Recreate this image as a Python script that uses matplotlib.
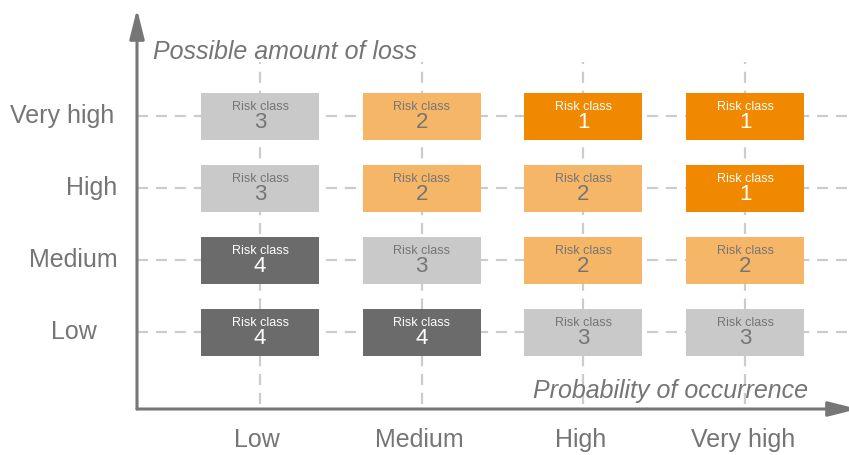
import matplotlib
matplotlib.use("Agg")
import matplotlib.pyplot as plt
from matplotlib.patches import Rectangle

plt.rcParams['font.family'] = ['Liberation Sans', 'DejaVu Sans']

# ---- data ----
prob_labels = ["Low", "Medium", "High", "Very high"]      # x categories
loss_labels = ["Low", "Medium", "High", "Very high"]      # y categories (bottom -> top)
# risk class per (loss row, probability column); rows bottom->top
risk_matrix = [
    [4, 4, 3, 3],   # Low
    [4, 3, 2, 2],   # Medium
    [3, 2, 2, 1],   # High
    [3, 2, 1, 1],   # Very high
]
box_text = "Risk class"
x_title = "Probability of occurrence"
y_title = "Possible amount of loss"

# ---- styles ----
class_colors = {1: "#f08800", 2: "#f6b667", 3: "#c9c9c9", 4: "#6b6b6b"}
class_text = {1: "white", 2: "#757575", 3: "#757575", 4: "white"}
axis_color = "#767676"
grid_color = "#cccccc"
label_color = "#757575"

W, H = 849, 455
fig = plt.figure(figsize=(W / 100, H / 100), dpi=100)

# pixel geometry of the axes
x0_px, x1_px = 137, 849
y_bot_px, y_top_px = 409, 9
col0_px, col_step = 260, 161.7
row0_px, row_step = 332, 72.0

def px2x(p):
    return (p - col0_px) / col_step

def px2y(p):
    return (row0_px - p) / row_step

ax = fig.add_axes([x0_px / W, (H - y_bot_px) / H, (x1_px - x0_px) / W, (y_bot_px - y_top_px) / H])
ax.set_xlim(px2x(x0_px), px2x(x1_px))
ax.set_ylim(px2y(y_bot_px), px2y(y_top_px))
ax.axis("off")

# grid dashed lines
for i in range(len(prob_labels)):
    ax.plot([i, i], [px2y(404), px2y(62)], color=grid_color, lw=1.6,
            dashes=(5, 3.5), zorder=1)
for j in range(len(loss_labels)):
    ax.plot([px2x(x0_px), px2x(x1_px)], [j, j], color=grid_color, lw=1.6,
            dashes=(5, 3.5), zorder=1)

# boxes
bw = 118 / col_step
bh = 47 / row_step
for j, row in enumerate(risk_matrix):
    for i, c in enumerate(row):
        ax.add_patch(Rectangle((i - bw / 2, j - bh / 2), bw, bh,
                               facecolor=class_colors[c], edgecolor="none", zorder=2))
        ax.text(i, j + 6.5 / row_step, box_text, ha="center", va="baseline",
                fontsize=9, color=class_text[c], zorder=3)
        ax.text(i, j - 12.5 / row_step, str(c), ha="center", va="baseline",
                fontsize=16, color=class_text[c], zorder=3)

# axes arrows
astyle = "-|>,head_length=1.0,head_width=0.25"
ax.annotate("", xy=(px2x(858), px2y(y_bot_px)), xytext=(px2x(x0_px), px2y(y_bot_px)),
            xycoords="data",
            arrowprops=dict(arrowstyle=astyle, color=axis_color, lw=2.2,
                            shrinkA=0, shrinkB=0, mutation_scale=18),
            annotation_clip=False)
ax.annotate("", xy=(px2x(x0_px), px2y(y_top_px)), xytext=(px2x(x0_px), px2y(y_bot_px)),
            xycoords="data",
            arrowprops=dict(arrowstyle=astyle, color=axis_color, lw=2.2,
                            shrinkA=0, shrinkB=0, mutation_scale=18),
            annotation_clip=False)

# category labels
col_label_px = [257, 419, 581, 743]
for i, lab in enumerate(prob_labels):
    ax.text(px2x(col_label_px[i]), px2y(440), lab, ha="center", va="center",
            fontsize=18, color=label_color, clip_on=False)
row_label_px = [74, 73, 92, 62.5]
for j, lab in enumerate(loss_labels):
    ax.text(px2x(row_label_px[j]), j, lab, ha="center", va="center",
            fontsize=18, color=label_color, clip_on=False)

# axis titles
ax.text(px2x(808), px2y(391), x_title, ha="right", va="center", fontsize=18,
        style="italic", color=label_color)
ax.text(px2x(153), px2y(52), y_title, ha="left", va="center", fontsize=18,
        style="italic", color=label_color)

fig.savefig("out.png", dpi=100)
